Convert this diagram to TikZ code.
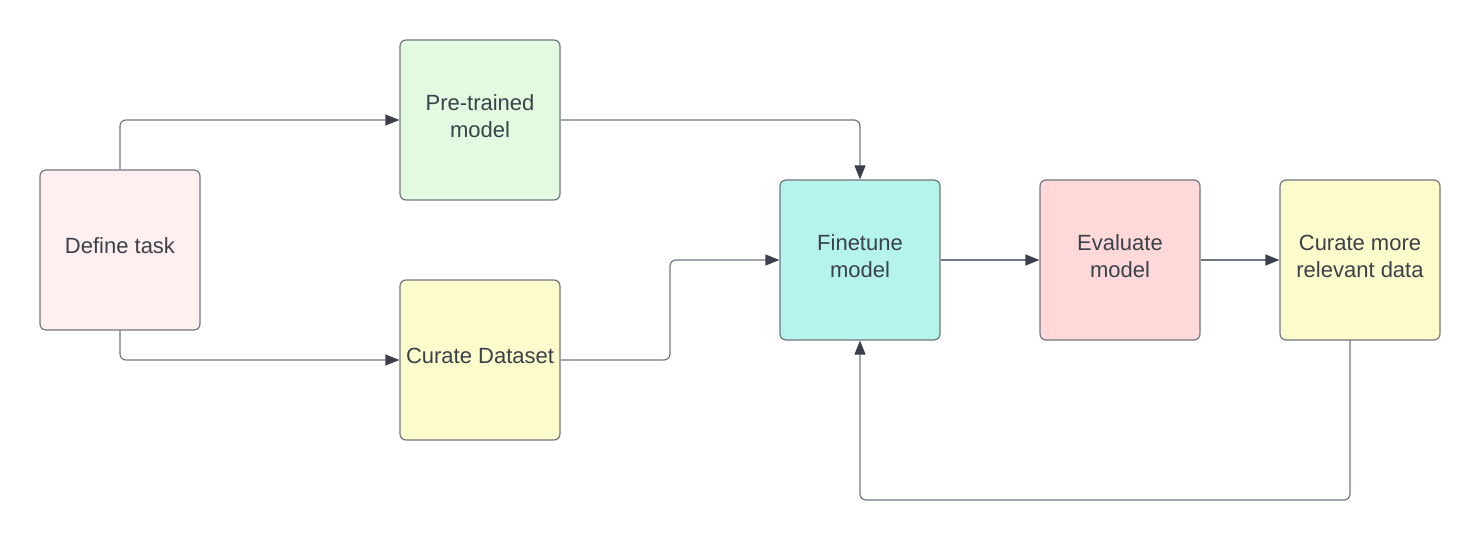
\documentclass[tikz,border=0pt]{standalone}
\usepackage{fontspec}
\setmainfont{Liberation Sans}
\usetikzlibrary{arrows.meta}
\definecolor{txt}{HTML}{3A414A}
\definecolor{edge}{HTML}{717680}
\definecolor{cPink}{HTML}{FFEFEF}
\definecolor{cGreen}{HTML}{E1FAE0}
\definecolor{cYellow}{HTML}{FCFBCB}
\definecolor{cTeal}{HTML}{B5F4EA}
\definecolor{cRed}{HTML}{FFD9DA}
\tikzset{
  box/.style={draw=edge, line width=1.2pt, rounded corners=6pt, minimum width=160pt, minimum height=160pt,
    inner sep=0pt, align=center, text=txt, font=\fontsize{22}{27}\selectfont},
  lbl/.style={align=center, text=txt, font=\fontsize{22}{27}\selectfont, inner sep=0pt},
  conn/.style={draw=edge, line width=1.2pt, rounded corners=6pt,
    -{Triangle[length=14pt,width=11pt,color=txt]}},
}
\begin{document}
\begin{tikzpicture}[x=1pt,y=-1pt]
\useasboundingbox (0,0) rectangle (1480,540);
\node[box, fill=cPink] (def) at (120,250) {};
\node[box, fill=cGreen] (pre) at (480,120) {};
\node[box, fill=cYellow] (cur) at (480,360) {};
\node[box, fill=cTeal] (fine) at (860,260) {};
\node[box, fill=cRed] (eval) at (1120,260) {};
\node[box, fill=cYellow] (more) at (1360,260) {};
\node[lbl] (tdef) at (120,246) {Define task};
\node[lbl] (tpre) at (480,116) {Pre-trained\\model};
\node[lbl] (tcur) at (480,356) {Curate Dataset};
\node[lbl] (tfine) at (860,256) {Finetune\\model};
\node[lbl] (teval) at (1120,256) {Evaluate\\model};
\node[lbl] (tmore) at (1360,256) {Curate more\\relevant data};
\coordinate (c1) at (670,360);
\coordinate (c2) at (1350,340);
\coordinate (c3) at (1350,500);
\draw[conn] (def.north) |- (pre.west);
\draw[conn] (def.south) |- (cur.west);
\draw[conn] (pre.east) -| (fine.north);
\draw[conn] (cur.east) -- (c1) |- (fine.west);
\draw[conn] (fine.east) -- (eval.west);
\draw[conn] (eval.east) -- (more.west);
\draw[conn] (c2) -- (c3) -| (fine.south);
\end{tikzpicture}
\end{document}
